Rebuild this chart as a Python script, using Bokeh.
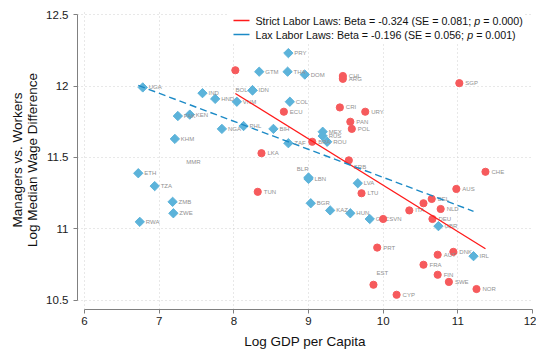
from bokeh.plotting import figure
from bokeh.models import Range1d, Label, BoxAnnotation, ColumnDataSource, FixedTicker
from bokeh.core.properties import value
from bokeh.embed import file_html
from bokeh.resources import INLINE

# ---------------- data ----------------
lax_iso = ["UGA", "IND", "HND", "KEN", "PAK", "KHM", "NGA", "ETH", "TZA", "ZMB", "ZWE", "RWA",
           "PRY", "GTM", "THA", "DOM", "BOL", "IDN", "VNM", "COL", "PHL", "BIH", "ZAF", "MEX",
           "RUS", "ROU", "BLR", "LBN", "LVA", "BGR", "KAZ", "HUN", "GRC", "GBR", "IRL"]
lax_gdp = [6.78, 7.58, 7.75, 7.41, 7.25, 7.21, 7.84, 6.72, 6.94, 7.18, 7.19, 6.74,
           8.73, 8.34, 8.72, 8.95, 8.25, 8.25, 8.04, 8.75, 8.13, 8.53, 8.73, 9.19,
           9.19, 9.25, 9.00, 9.00, 9.66, 9.03, 9.29, 9.56, 9.82, 10.74, 11.21]
lax_wage = [11.99, 11.95, 11.91, 11.80, 11.79, 11.63, 11.70, 11.39, 11.30, 11.19, 11.11, 11.05,
            12.23, 12.10, 12.10, 12.08, 11.97, 11.97, 11.89, 11.89, 11.72, 11.70, 11.60, 11.68,
            11.65, 11.61, 11.36, 11.35, 11.32, 11.18, 11.13, 11.11, 11.07, 11.02, 10.81]
lax_pos = ["r"] * 16 + ["l"] + ["r"] * 9 + ["tl"] + ["r"] * 8

strict_iso = ["", "CHL", "ARG", "ECU", "CRI", "URY", "PAN", "POL", "SGP", "BRA", "LKA", "SRB",
              "TUN", "LTU", "CHE", "AUS", "", "BEL", "NLD", "ITA", "DEU", "SVN", "PRT", "AUT",
              "DNK", "FRA", "FIN", "SWE", "NOR", "EST", "CYP"]
strict_gdp = [8.02, 9.46, 9.46, 8.67, 9.42, 9.76, 9.56, 9.58, 11.02, 9.05, 8.37, 9.54,
              8.32, 9.71, 11.37, 10.98, 10.54, 10.65, 10.77, 10.35, 10.66, 10.00, 9.92, 10.73,
              10.94, 10.54, 10.73, 10.88, 11.25, 9.87, 10.18]
strict_wage = [12.11, 12.07, 12.05, 11.82, 11.85, 11.82, 11.75, 11.70, 12.02, 11.61, 11.53, 11.48,
               11.26, 11.25, 11.40, 11.28, 11.18, 11.21, 11.14, 11.13, 11.07, 11.07, 10.87, 10.82,
               10.84, 10.75, 10.68, 10.63, 10.58, 10.61, 10.54]
strict_pos = ["r"] * 11 + ["br"] + ["r"] * 17 + ["t"] + ["r"]

# label without a marker
nomark_iso = ["MMR"]
nomark_gdp = [7.46]
nomark_wage = [11.47]

# fitted lines (from legend)
strict_alpha, strict_beta, strict_se, strict_p = 14.546, -0.324, 0.081, 0.000
lax_alpha, lax_beta, lax_se, lax_p = 13.321, -0.196, 0.056, 0.001

x_ticks = [6, 7, 8, 9, 10, 11, 12]
x_tick_labels = ["6", "7", "8", "9", "10", "11", "12"]
y_ticks = [10.5, 11, 11.5, 12, 12.5]
y_tick_labels = ["10.5", "11", "11.5", "12", "12.5"]

x_title = "Log GDP per Capita"
y_title = "Managers vs. Workers\nLog Median Wage Difference"
strict_name = "Strict Labor Laws"
lax_name = "Lax Labor Laws"

# ---------------- style ----------------
RED = "#f65a5c"
BLUE = "#5cb3da"
RED_LINE = "#ff1a1a"
BLUE_LINE = "#1c8ac6"
FONT = "Liberation Sans"
X0, X1 = 5.906, 12.0
Y0, Y1 = 10.437, 12.528
PX_X = 74.67   # pixels per x unit
PX_Y = 143.0   # pixels per y unit

# Liberation Sans (Arial-compatible) advance widths, per 1000 em
ADV = {" ": 278, "(": 333, ")": 333, "-": 333, ".": 278, ":": 278, ";": 278, "=": 584,
       "B": 667, "E": 667, "L": 556, "S": 667, "a": 556, "b": 556, "c": 500, "e": 556,
       "i": 222, "o": 556, "p": 556, "r": 333, "s": 500, "t": 278, "w": 722, "x": 500}

def text_w(s, fs):
    return sum(ADV.get(ch, 556) for ch in s) * fs / 1000.0

def dx_page(px):
    return X0 + (px - 77) / PX_X

def dy_page(py):
    return 12.5 - (py - 14) / PX_Y

POS = {"r": ("left", 6, 0), "l": ("right", -5, 0), "tl": ("right", 0, -9),
       "t": ("left", 3, -12), "br": ("left", 5, 7)}

def make_source(iso, gx, gy, pos):
    return ColumnDataSource(dict(
        iso=iso, x=gx, y=gy,
        align=[POS[k][0] for k in pos],
        dx=[POS[k][1] for k in pos],
        dy=[POS[k][2] for k in pos]))

p = figure(width=536, height=351, x_range=Range1d(X0, X1), y_range=Range1d(Y0, Y1),
           output_backend="svg", toolbar_location=None,
           min_border_left=77, min_border_right=4, min_border_top=10, min_border_bottom=42)
p.outline_line_color = None
p.background_fill_color = "white"
p.border_fill_color = "white"

for ax, ticks, labels, bounds in ((p.xaxis[0], x_ticks, x_tick_labels, (6, 12)),
                                  (p.yaxis[0], y_ticks, y_tick_labels, (10.5, 12.5))):
    ax.ticker = FixedTicker(ticks=ticks)
    ax.major_label_overrides = {t: l for t, l in zip(ticks, labels)}
    ax.bounds = bounds
    ax.axis_line_color = "#808080"
    ax.major_tick_line_color = "#808080"
    ax.minor_tick_line_color = None
    ax.major_tick_out = 4
    ax.major_tick_in = 0
    ax.major_label_text_font = FONT
    ax.major_label_text_font_size = "11.5px"
    ax.major_label_text_color = "#1a1a1a"
    ax.axis_label_text_font = FONT
    ax.axis_label_text_font_size = "13.5px"
    ax.axis_label_text_font_style = "normal"
    ax.axis_label_text_color = "#111111"

p.xaxis.axis_label = x_title
p.yaxis.axis_label = y_title
p.xaxis.major_label_standoff = 3
p.xaxis.axis_label_standoff = 6
p.yaxis.major_label_standoff = 5
p.yaxis.axis_label_standoff = 3
p.yaxis.axis_label_text_line_height = 1.0

for g in (p.xgrid[0], p.ygrid[0]):
    g.grid_line_color = "#d0d0d0"
    g.grid_line_dash = "1 3"
    g.grid_line_width = 1
p.xgrid.ticker = FixedTicker(ticks=x_ticks)
p.ygrid.ticker = FixedTicker(ticks=y_ticks)

# legend background
box = BoxAnnotation(left=dx_page(228), right=dx_page(524), top=dy_page(11), bottom=dy_page(43),
                    fill_color="white", fill_alpha=1.0, line_color=None, level="underlay")
p.add_layout(box)

lab_kw = dict(text_font=value(FONT), text_font_size="6px", text_color="#909090",
              text_align="align", text_baseline="middle", x_offset="dx", y_offset="dy")

lax_src = make_source(lax_iso, lax_gdp, lax_wage, lax_pos)
p.scatter("x", "y", source=lax_src, marker="square", angle=0.785398, size=6.6,
          fill_color=BLUE, line_color=BLUE)
p.text("x", "y", text="iso", source=lax_src, **lab_kw)

strict_src = make_source(strict_iso, strict_gdp, strict_wage, strict_pos)
p.scatter("x", "y", source=strict_src, marker="circle", size=7.2,
          fill_color=RED, line_color=RED)
p.text("x", "y", text="iso", source=strict_src, **lab_kw)

p.text(nomark_gdp, nomark_wage, text=nomark_iso, text_font=value(FONT), text_font_size="6px",
       text_color="#909090", text_align="center", text_baseline="middle")

# fitted lines
sx = [min(strict_gdp), max(strict_gdp)]
p.line(sx, [strict_alpha + strict_beta * v for v in sx], line_color=RED_LINE, line_width=1.3)
lx = [min(lax_gdp), max(lax_gdp)]
p.line(lx, [lax_alpha + lax_beta * v for v in lx], line_color=BLUE_LINE, line_width=1.4,
       line_dash="7 4")

# manual legend
FS = 10.7
rows = [(strict_name, strict_beta, strict_se, strict_p, RED_LINE, 20),
        (lax_name, lax_beta, lax_se, lax_p, BLUE_LINE, 34)]
for name, b, se, pv, col, ypx in rows:
    yy = dy_page(ypx)
    p.line([dx_page(233), dx_page(249)], [yy, yy], line_color=col, line_width=1.3)
    seg1 = f"{name}: Beta = {b:.3f} (SE = {se:.3f};"
    seg3 = f"= {pv:.3f})"
    w1 = text_w(seg1 + " ", FS)
    w2 = w1 + text_w("p ", FS)
    common = dict(y=yy, text_font=FONT, text_font_size=f"{FS}px",
                  text_color="#111111", text_baseline="middle")
    p.add_layout(Label(x=dx_page(255), text=seg1, **common))
    p.add_layout(Label(x=dx_page(255), x_offset=w1, text="p", text_font_style="italic", **common))
    p.add_layout(Label(x=dx_page(255), x_offset=w2, text=seg3, **common))

open("out.html", "w").write(file_html(p, INLINE))
